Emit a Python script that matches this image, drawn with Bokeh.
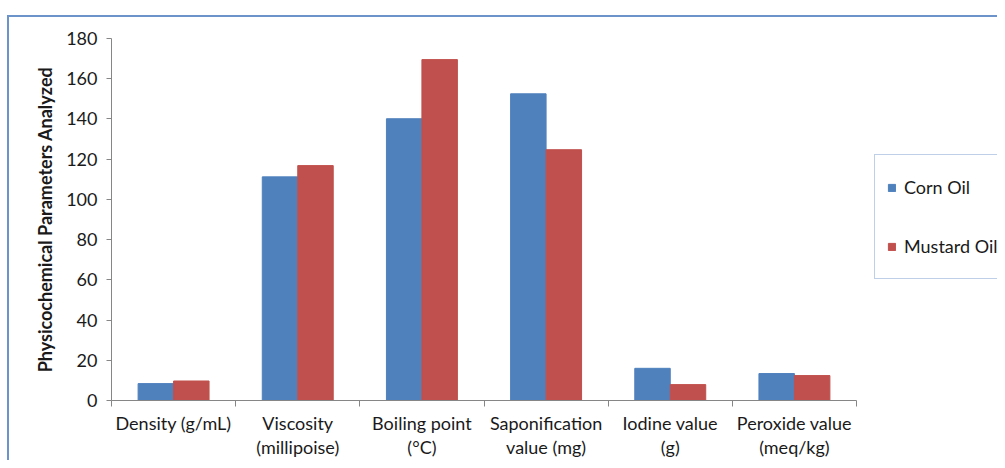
from bokeh.plotting import figure
from bokeh.models import Range1d, FixedTicker, Legend, LegendItem, ColumnDataSource
from bokeh.embed import file_html
from bokeh.resources import INLINE

# ---- data ----
categories = ["Density (g/mL)", "Viscosity\n(millipoise)", "Boiling point\n(°C)",
              "Saponification\nvalue (mg)", "Iodine value\n(g)", "Peroxide value\n(meq/kg)"]
corn_oil = [8.4, 111.2, 140.1, 152.5, 16.0, 13.4]
mustard_oil = [9.7, 116.8, 169.5, 124.7, 7.9, 12.4]
series_names = ["Corn Oil", "Mustard Oil"]
y_ticks = [0, 20, 40, 60, 80, 100, 120, 140, 160, 180]
y_title = "Physicochemical Parameters Analyzed"

BLUE = "#4F81BD"
RED = "#C0504D"
FONT = "Lato"
TXT = "#1a1a1a"
AX = "#868686"
FRAME = "#6C93CA"

W, H = 997, 460
LEFT, TOP, AXIS_RIGHT, BOTTOM = 111, 38, 856, 401   # plot-area pixel layout

n = len(categories)
bar_w = 1 / 3.5
centers = [i + 0.5 for i in range(n)]
x_end = n * (W - LEFT) / (AXIS_RIGHT - LEFT)   # frame runs to the right edge (room for legend)

src = ColumnDataSource(dict(
    x_corn=[c - bar_w / 2 for c in centers],
    x_mustard=[c + bar_w / 2 for c in centers],
    corn=corn_oil, mustard=mustard_oil))

p = figure(width=W, height=H, output_backend="svg", toolbar_location=None,
           x_range=Range1d(0, x_end), y_range=Range1d(y_ticks[0], y_ticks[-1]),
           min_border_left=LEFT, min_border_right=0, min_border_top=TOP,
           min_border_bottom=H - BOTTOM)
p.outline_line_color = None
p.xgrid.visible = False
p.ygrid.visible = False
p.background_fill_color = None
p.border_fill_color = None
p.styles = {
    "background": (f"linear-gradient({FRAME},{FRAME}) 7px 15px / 2px calc(100% - 15px) no-repeat, "
                   f"linear-gradient({FRAME},{FRAME}) 7px 15px / calc(100% - 7px) 2px no-repeat, "
                   "#ffffff")
}

r1 = p.vbar(x="x_corn", top="corn", width=bar_w, source=src, fill_color=BLUE, line_color=BLUE)
r2 = p.vbar(x="x_mustard", top="mustard", width=bar_w, source=src, fill_color=RED, line_color=RED)

# x axis
xa = p.xaxis[0]
xa.bounds = (0, n)
xa.ticker = FixedTicker(ticks=centers, minor_ticks=list(range(n + 1)))
xa.major_label_overrides = {c: lab for c, lab in zip(centers, categories)}
xa.major_tick_out = 0
xa.major_tick_in = 0
xa.minor_tick_out = 6
xa.minor_tick_in = 0
xa.minor_tick_line_color = AX
xa.axis_line_color = AX
xa.major_label_text_font = FONT
xa.major_label_text_font_size = "18px"
xa.major_label_text_color = TXT
xa.major_label_text_line_height = 1.11
xa.major_label_standoff = 5

# y axis
ya = p.yaxis[0]
ya.ticker = FixedTicker(ticks=y_ticks)
ya.major_tick_out = 5
ya.major_tick_in = 0
ya.minor_tick_out = 0
ya.minor_tick_in = 0
ya.major_tick_line_color = AX
ya.axis_line_color = AX
ya.major_label_text_font = FONT
ya.major_label_text_font_size = "18px"
ya.major_label_text_color = TXT
ya.major_label_standoff = 9
ya.axis_label = y_title
ya.axis_label_text_font = FONT
ya.axis_label_text_font_style = "bold"
ya.axis_label_text_font_size = "18px"
ya.axis_label_text_color = TXT
ya.axis_label_standoff = 7

legend = Legend(items=[LegendItem(label=series_names[0], renderers=[r1]),
                       LegendItem(label=series_names[1], renderers=[r2])],
                location=(874 - LEFT, BOTTOM - 280))
legend.border_line_color = "#7FA0D0"
legend.border_line_width = 1
legend.background_fill_color = "white"
legend.glyph_width = 9
legend.glyph_height = 9
legend.label_height = 40
legend.label_text_font = FONT
legend.label_text_font_size = "18px"
legend.label_text_color = TXT
legend.label_standoff = 8
legend.spacing = 19
legend.padding = 12
legend.margin = 0
p.add_layout(legend, "center")

open("out.html", "w").write(file_html(p, INLINE))
